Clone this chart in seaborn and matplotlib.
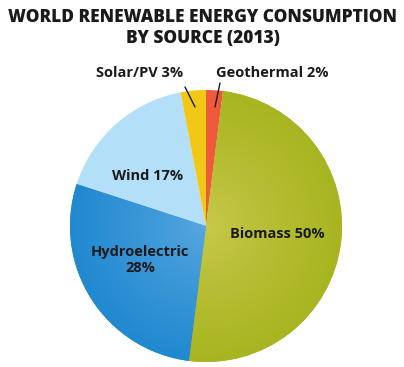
import matplotlib
matplotlib.use("Agg")
import matplotlib.pyplot as plt
import matplotlib.colors as mcolors
import seaborn as sns
import numpy as np

sources = ["Geothermal", "Biomass", "Hydroelectric", "Wind", "Solar/PV"]
shares = [2, 50, 28, 17, 3]
colors = ["#EE5A3A", "#A8B521", "#2189D0", "#B3E0F8", "#F2C817"]
inner_colors = ["#EE5A3A", "#C9C94C", "#5AA8E0", "#B3E0F8", "#F2C817"]
title_lines = ["WORLD RENEWABLE ENERGY CONSUMPTION", "BY SOURCE (2013)"]

sns.set_theme(style="white")
plt.rcParams['font.family'] = ['Open Sans', 'DejaVu Sans']

W, H = 404, 367
fig = plt.figure(figsize=(W / 100, H / 100), dpi=100)
ax = fig.add_axes([0, 0, 1, 1])

cx, cy, r = 206, H - 226, 136
wedges, _ = ax.pie(shares, colors=colors, startangle=90, counterclock=False,
                   center=(cx, cy), radius=r, frame=True,
                   wedgeprops=dict(linewidth=0))

# radial shading for the two large slices
n = 300
yy, xx = np.mgrid[-1:1:n * 1j, -1:1:n * 1j]
dist = np.clip(np.sqrt(xx ** 2 + yy ** 2), 0, 1)
for i in (1, 2):
    c_out = np.array(mcolors.to_rgb(colors[i]))
    c_in = np.array(mcolors.to_rgb(inner_colors[i]))
    t = dist[..., None] ** 0.8
    img = c_in * (1 - t) + c_out * t
    im = ax.imshow(img, extent=(cx - r, cx + r, cy - r, cy + r), origin="lower",
                   zorder=2, interpolation="bilinear")
    im.set_clip_path(wedges[i])

ax.set_xlim(0, W)
ax.set_ylim(0, H)
ax.set_aspect("equal")
ax.axis("off")

txt = "#1a1a1a"
fs = 10.5
ax.text(203, H - 17, title_lines[0], ha="center", va="center", fontsize=12.4,
        fontweight="heavy", color="#1a1a1a", zorder=5)
ax.text(203, H - 38, title_lines[1], ha="center", va="center", fontsize=12.4,
        fontweight="heavy", color="#1a1a1a", zorder=5)

ax.text(183, H - 73, f"{sources[4]} {shares[4]}%", ha="right", va="center",
        fontsize=fs, fontweight="bold", color=txt, zorder=5)
ax.text(216, H - 73, f"{sources[0]} {shares[0]}%", ha="left", va="center",
        fontsize=fs, fontweight="bold", color=txt, zorder=5)
ax.plot([185, 195], [H - 87, H - 107], color=txt, lw=1, zorder=5)
ax.plot([220, 215], [H - 83, H - 107], color=txt, lw=1, zorder=5)

ax.text(148, H - 176, f"{sources[3]} {shares[3]}%", ha="center", va="center",
        fontsize=fs, fontweight="bold", color=txt, zorder=5)
ax.text(140, H - 260, f"{sources[2]}\n{shares[2]}%", ha="center", va="center",
        fontsize=fs, fontweight="bold", color=txt, linespacing=1.15, zorder=5)
ax.text(277, H - 234, f"{sources[1]} {shares[1]}%", ha="center", va="center",
        fontsize=fs, fontweight="bold", color=txt, zorder=5)

fig.savefig("out.png", dpi=100)
